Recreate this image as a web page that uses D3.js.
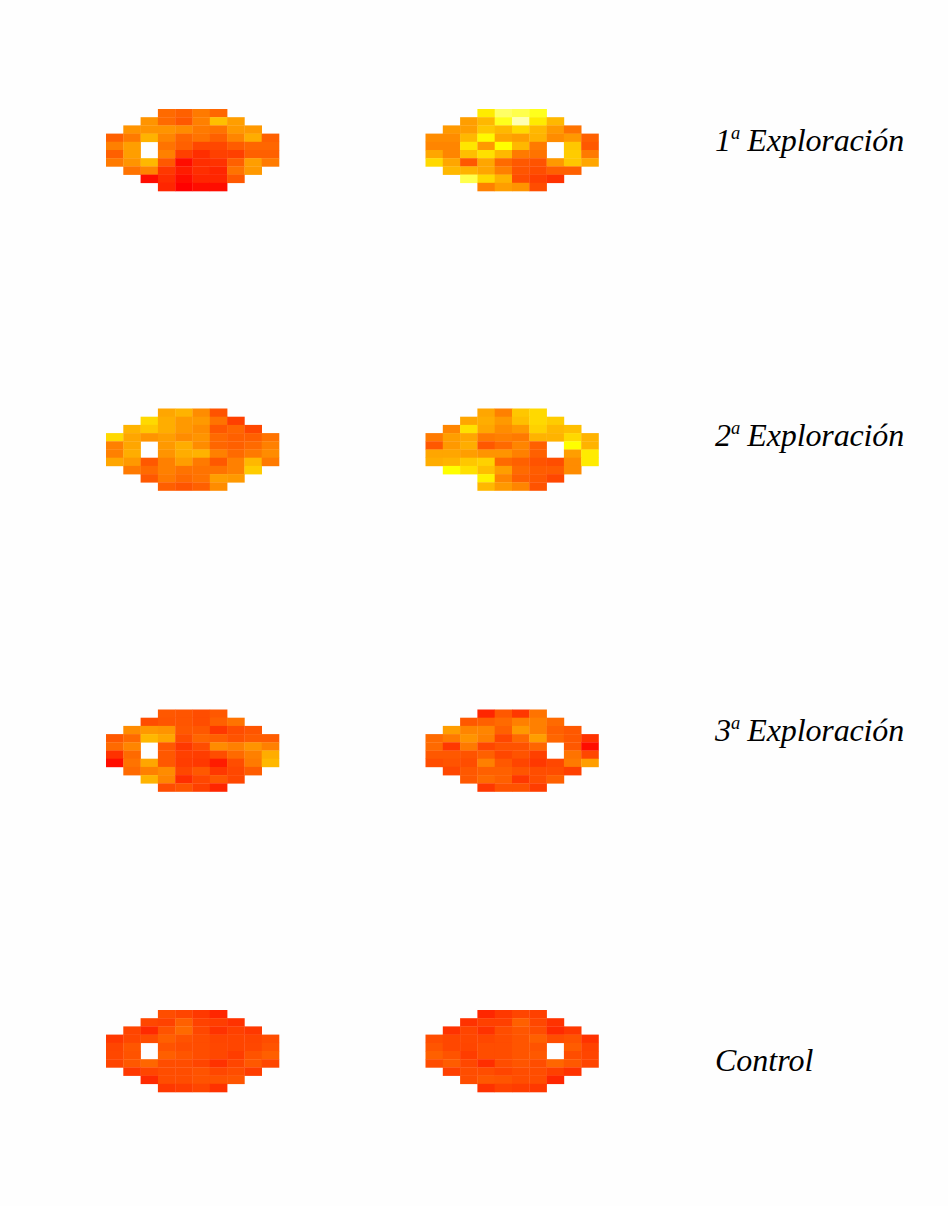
<!DOCTYPE html>
<html><head><meta charset="utf-8">
<script src="https://cdnjs.cloudflare.com/ajax/libs/d3/7.8.5/d3.min.js"></script>
<style>html,body{margin:0;padding:0;background:#fff}svg{display:block}</style></head>
<body><svg id="c" width="948" height="1206"></svg>
<script>
const _=null;
const labels=[["1","Exploración"],["2","Exploración"],["3","Exploración"],["Control"]];
const L1=[
[_,_,_,42,38,48,40,_,_,_],
[_,_,58,42,35,50,75,62,_,_],
[_,58,58,58,55,48,45,60,60,_],
[38,48,70,52,40,45,38,52,68,38],
[50,62,_,45,38,28,28,36,40,40],
[38,62,_,50,25,18,25,25,38,38],
[48,58,72,35,5,18,20,38,62,48],
[_,45,52,22,12,18,15,45,60,_],
[_,_,5,18,3,15,15,35,_,_],
[_,_,_,15,2,6,6,_,_,_]];
const R1=[
[_,_,_,92,120,115,105,_,_,_],
[_,_,62,72,105,135,92,72,_,_],
[_,60,62,78,72,85,72,60,45,_],
[55,55,72,98,65,62,70,55,60,38],
[52,52,90,60,100,72,48,_,78,35],
[65,52,75,88,72,48,45,_,80,48],
[85,65,35,65,42,35,32,60,78,65],
[_,72,70,65,50,33,30,38,38,_],
[_,_,115,85,70,30,25,20,_,_],
[_,_,_,50,62,58,30,_,_,_]];
const L2=[
[_,_,_,65,70,55,32,_,_,_],
[_,_,85,68,60,60,45,25,_,_],
[_,70,78,68,60,55,35,40,28,_],
[85,65,58,62,55,58,42,38,38,45],
[50,65,_,60,68,55,40,38,42,50],
[50,68,_,58,68,70,50,42,48,55],
[65,60,35,50,62,48,35,50,72,48],
[_,48,42,50,45,45,45,50,80,_],
[_,_,35,48,42,45,62,60,_,_],
[_,_,_,37,33,38,55,_,_,_]];
const R2=[
[_,_,_,65,50,78,85,_,_,_],
[_,_,65,68,60,75,85,80,_,_],
[_,52,88,65,55,60,82,72,75,_],
[48,62,65,48,50,48,70,70,85,70],
[35,60,68,35,42,52,38,_,100,70],
[65,65,62,58,58,50,38,_,62,92],
[68,70,78,82,42,38,32,30,55,92],
[_,100,88,75,62,42,36,36,55,_],
[_,_,_,95,52,38,35,28,_,_],
[_,_,_,72,60,52,32,_,_,_]];
const L3=[
[_,_,_,35,33,30,35,_,_,_],
[_,_,30,33,33,30,38,45,_,_],
[_,55,60,58,35,35,22,30,33,_],
[35,42,72,65,30,40,38,32,36,36],
[42,52,_,35,22,30,55,50,58,50],
[20,42,_,35,25,24,30,42,50,68],
[5,45,65,35,24,22,10,30,48,72],
[_,42,50,55,28,35,22,28,36,_],
[_,_,70,52,18,28,35,28,_,_],
[_,_,_,30,33,25,15,_,_,_]];
const R3=[
[_,_,_,15,35,22,45,_,_,_],
[_,_,35,38,42,50,50,42,_,_],
[_,62,52,52,38,60,50,38,35,_],
[42,48,58,50,28,42,62,40,35,20],
[42,22,48,28,32,32,40,_,35,5],
[35,35,32,38,28,32,25,_,45,28],
[30,32,30,50,35,27,22,28,48,62],
[_,28,35,38,38,33,30,30,25,_],
[_,_,35,42,38,22,30,38,_,_],
[_,_,_,22,32,32,24,_,_,_]];
const L4=[
[_,_,_,30,27,22,15,_,_,_],
[_,_,28,26,38,26,24,20,_,_],
[_,27,17,32,42,28,20,25,22,_],
[22,28,30,38,32,30,27,27,27,30],
[27,34,_,32,30,30,28,27,28,32],
[28,32,_,37,33,30,28,24,32,37],
[27,35,40,30,30,27,20,27,35,28],
[_,22,27,30,30,32,28,30,24,_],
[_,_,16,30,30,32,32,33,_,_],
[_,_,_,22,24,27,20,_,_,_]];
const R4=[
[_,_,_,15,22,27,25,_,_,_],
[_,_,20,25,25,38,28,20,_,_],
[_,20,27,20,30,34,30,17,22,_],
[30,28,28,28,30,33,38,30,32,20],
[33,28,27,30,30,33,32,_,36,26],
[38,32,24,30,30,33,35,_,30,27],
[30,36,28,18,30,33,30,40,35,27],
[_,25,30,30,27,30,30,25,20,_],
[_,_,30,35,33,30,30,15,_,_],
[_,_,_,20,26,24,22,_,_,_]];
const panels=[L1,R1,L2,R2,L3,R3,L4,R4];

const svg=d3.select("#c");
svg.append("defs").append("filter").attr("id","soft")
  .attr("x","-5%").attr("y","-5%").attr("width","110%").attr("height","110%")
  .append("feGaussianBlur").attr("stdDeviation",0.55);
svg.append("rect").attr("width",948).attr("height",1206).attr("fill","#fefefe");
const color=d3.scaleLinear().domain([0,100,150]).range(["#ff0000","#ffff00","#ffffff"]).clamp(true);
const idx=d3.range(10);
const rowTops=[109,408.5,709.5,1010];
const colLefts=[106,425.5];
const W=173, H=82;
const col=d3.scaleBand().domain(idx).range([0,W]);
const row=d3.scaleBand().domain(idx).range([0,H]);
panels.forEach((m,p)=>{
  const g=svg.append("g").attr("transform",`translate(${colLefts[p%2]},${rowTops[Math.floor(p/2)]})`)
    .attr("filter","url(#soft)");
  const cells=m.flatMap((r,ri)=>r.map((v,ci)=>({ri,ci,v}))).filter(d=>d.v!==null);
  g.selectAll("rect").data(cells).join("rect")
    .attr("x",d=>col(d.ci)).attr("y",d=>row(d.ri))
    .attr("width",col.bandwidth()+0.3).attr("height",row.bandwidth()+0.3)
    .attr("fill",d=>color(d.v));
});
const lyb=[151,446,741,1071];
labels.forEach((l,i)=>{
  const t=svg.append("text").attr("x",715).attr("y",lyb[i])
   .attr("font-family","'Liberation Serif',serif").attr("font-style","italic")
   .attr("font-size",32).attr("fill","#000");
  if(l.length===2){
    t.append("tspan").text(l[0]);
    t.append("tspan").text("a").attr("font-size",18.5).attr("dy",-12);
    t.append("tspan").text(" ").attr("dy",12);
    t.append("tspan").text(l[1]).attr("dx",-1).attr("textLength",157);
  } else t.text(l[0]);
});
</script></body></html>
